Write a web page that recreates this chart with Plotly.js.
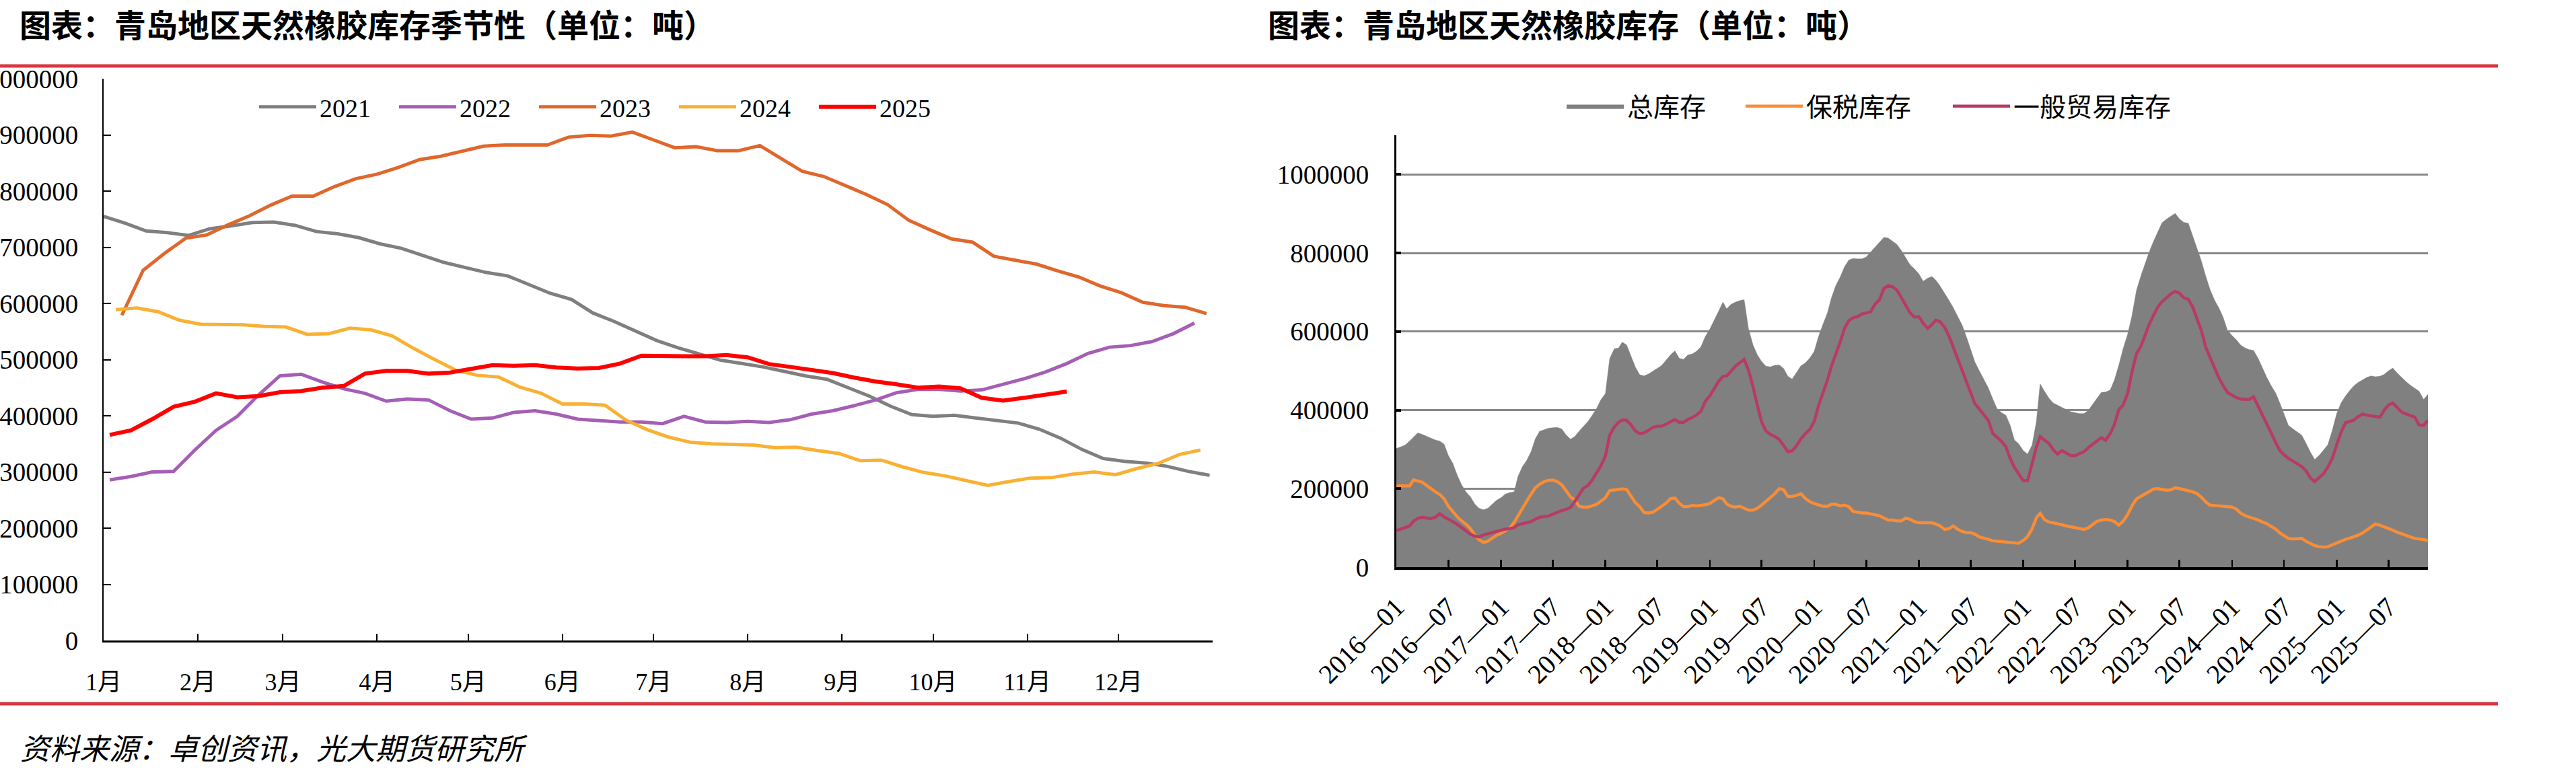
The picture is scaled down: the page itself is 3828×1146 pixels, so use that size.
<!DOCTYPE html>
<html><head><meta charset="utf-8">
<script src="https://cdn.plot.ly/plotly-3.0.1.min.js"></script>
<style>html,body{margin:0;padding:0;background:#fff;}#chart{width:3828px;height:1146px;}</style>
</head><body><div id="chart"></div>
<script>
const W = 3828, H = 1146;

// ---------- Left chart: seasonal inventory (weekly) ----------
const monthTickDays = [0, 31, 59, 90, 120, 151, 181, 212, 243, 273, 304, 334, 365];
const monthTickText = ['1月','2月','3月','4月','5月','6月','7月','8月','9月','10月','11月','12月',''];
const seasonYears = ['2021','2022','2023','2024','2025'];
const seasonStartDay = [0, 2, 6, 4, 2];
const seasonColors = ['#7F7F7F','#A55EB5','#E0672C','#F8B133','#FF0000'];
const s2021 = [755000,743000,729000,726000,721000,733000,738000,744000,745000,739000,728000,724000,717000,706000,698000,686000,673000,664000,655000,649000,634000,618000,607000,583000,568000,551000,534000,521000,510000,499000,493000,487000,479000,471000,465000,450000,435000,417000,402000,399000,401000,396000,392000,387000,376000,360000,340000,324000,319000,316000,310000,301000,294000];
const s2022 = [286000,292000,300000,301000,339000,374000,399000,437000,471000,474000,460000,448000,440000,426000,430000,428000,409000,394000,396000,406000,409000,403000,394000,392000,389000,389000,386000,399000,389000,388000,390000,388000,393000,403000,409000,418000,428000,441000,447000,447000,444000,446000,456000,466000,478000,493000,511000,522000,525000,532000,546000,565000];
const s2023 = [579000,659000,689000,716000,722000,740000,756000,775000,791000,791000,808000,822000,830000,842000,856000,862000,871000,880000,882000,882000,882000,896000,899000,898000,905000,891000,877000,879000,872000,872000,881000,858000,835000,826000,810000,794000,776000,748000,731000,715000,709000,684000,677000,670000,658000,647000,631000,619000,602000,596000,593000,582000];
const s2024 = [589000,592000,585000,570000,563000,562000,562000,559000,558000,545000,546000,556000,553000,542000,520000,500000,481000,472000,469000,451000,440000,421000,421000,419000,392000,375000,362000,353000,350000,349000,348000,343000,344000,338000,333000,320000,321000,309000,299000,293000,285000,276000,283000,289000,290000,296000,300000,295000,306000,315000,331000,339000];
const s2025 = [366000,374000,394000,416000,425000,440000,433000,435000,442000,444000,450000,453000,475000,480000,480000,475000,477000,484000,490000,489000,490000,486000,484000,485000,493000,507000,506000,506000,506000,508000,504000,492000,487000,481000,476000,468000,461000,456000,450000,452000,449000,432000,427000,432000,438000,443000];
const seasonValues = [s2021, s2022, s2023, s2024, s2025];

// ---------- Right chart: Qingdao inventory (semi-monthly, 2016-01 .. 2025-11) ----------
const invFirstYear = 2016, invMonths = 119;
const invDates = [];
for (let m = 0; m < invMonths; m++) {
  const y = invFirstYear + Math.floor(m / 12), mo = String(m % 12 + 1).padStart(2, '0');
  invDates.push(y + '-' + mo + '-01', y + '-' + mo + '-16');
}
const totalInv = [302000,306000,311000,321000,332000,342000,338000,333000,328000,324000,
321000,313000,284000,265000,234000,210000,191000,179000,161000,150000,
146000,150000,160000,170000,177000,186000,190000,192000,230000,255000,
272000,294000,327000,346000,350000,354000,355000,356000,352000,337000,
326000,333000,346000,359000,371000,387000,404000,426000,442000,531000,
556000,558000,573000,566000,536000,509000,490000,487000,492000,499000,
506000,513000,527000,540000,551000,532000,529000,540000,543000,550000,
561000,587000,606000,627000,652000,675000,658000,669000,675000,679000,
681000,608000,566000,541000,524000,512000,510000,514000,515000,506000,
486000,479000,496000,513000,520000,532000,549000,587000,619000,647000,
685000,716000,739000,765000,782000,786000,785000,785000,790000,802000,
814000,827000,840000,838000,830000,822000,806000,789000,770000,760000,
747000,728000,736000,740000,731000,716000,698000,680000,661000,641000,
617000,587000,554000,522000,499000,479000,456000,429000,404000,394000,
387000,362000,324000,314000,297000,288000,311000,371000,467000,448000,
430000,418000,412000,406000,401000,396000,393000,391000,391000,399000,
415000,431000,445000,446000,451000,477000,514000,556000,593000,640000,
705000,741000,769000,800000,829000,854000,877000,886000,894000,901000,
887000,878000,876000,844000,811000,779000,741000,707000,680000,660000,
636000,603000,590000,579000,565000,558000,554000,552000,532000,507000,
484000,463000,444000,418000,389000,361000,352000,344000,336000,315000,
293000,274000,285000,298000,312000,347000,391000,418000,436000,450000,
461000,470000,477000,483000,487000,485000,486000,491000,500000,507000,
494000,483000,472000,463000,456000,448000,427000,440000];
const bondedInv = [207000,207000,207000,207000,222000,220000,216000,208000,199000,192000,
185000,174000,155000,141000,128000,118000,109000,98000,82000,70000,
63000,66000,73000,81000,86000,92000,100000,114000,131000,150000,
168000,186000,202000,211000,218000,221000,222000,218000,210000,195000,
179000,171000,155000,153000,153000,156000,160000,168000,177000,195000,
197000,197000,199000,198000,180000,164000,154000,139000,138000,140000,
147000,154000,163000,174000,176000,163000,154000,154000,157000,156000,
157000,159000,162000,170000,177000,174000,161000,155000,153000,155000,
150000,145000,145000,150000,158000,167000,176000,187000,200000,197000,
180000,180000,183000,187000,175000,167000,162000,158000,155000,155000,
160000,160000,156000,158000,154000,142000,139000,138000,138000,136000,
133000,131000,125000,120000,120000,118000,118000,125000,122000,116000,
113000,113000,113000,113000,110000,105000,96000,98000,105000,97000,
91000,88000,88000,84000,77000,75000,71000,67000,66000,65000,
63000,63000,62000,61000,68000,78000,98000,126000,137000,121000,
115000,112000,110000,108000,105000,103000,101000,98000,96000,100000,
110000,117000,120000,121000,120000,116000,107000,117000,134000,156000,
174000,181000,187000,192000,199000,200000,198000,196000,197000,202000,
200000,198000,195000,192000,187000,178000,166000,158000,157000,156000,
155000,155000,153000,148000,137000,131000,128000,124000,120000,115000,
111000,104000,97000,87000,80000,73000,72000,72000,73000,66000,
60000,55000,52000,51000,52000,57000,61000,66000,71000,74000,
77000,81000,87000,94000,103000,110000,107000,102000,97000,94000,
89000,85000,80000,76000,73000,72000,70000,68000];
const generalInv = [93000,96000,101000,105000,117000,124000,127000,125000,124000,127000,
136000,128000,121000,116000,109000,101000,91000,84000,79000,77000,
82000,85000,88000,90000,93000,97000,98000,101000,108000,111000,
113000,116000,122000,127000,129000,130000,135000,140000,144000,147000,
152000,167000,185000,201000,208000,222000,240000,258000,283000,336000,
357000,369000,375000,374000,362000,347000,340000,342000,349000,356000,
359000,359000,364000,370000,376000,369000,369000,376000,381000,388000,
397000,422000,436000,454000,473000,486000,487000,499000,512000,521000,
529000,502000,460000,413000,370000,347000,338000,333000,325000,310000,
294000,296000,310000,327000,340000,350000,371000,411000,443000,476000,
511000,540000,574000,608000,628000,635000,638000,645000,648000,650000,
670000,681000,710000,717000,714000,706000,686000,666000,648000,637000,
638000,621000,608000,618000,629000,625000,611000,589000,561000,528000,
498000,470000,442000,416000,402000,388000,374000,341000,331000,321000,
307000,277000,254000,236000,220000,220000,265000,306000,332000,323000,
315000,299000,288000,297000,290000,284000,284000,288000,294000,304000,
313000,322000,330000,323000,340000,364000,401000,413000,443000,497000,
544000,562000,588000,616000,641000,662000,676000,687000,696000,702000,
698000,686000,682000,663000,631000,602000,560000,533000,509000,482000,
462000,445000,438000,432000,428000,427000,427000,434000,411000,390000,
368000,343000,318000,297000,286000,277000,270000,263000,256000,245000,
227000,218000,229000,238000,255000,276000,312000,343000,368000,372000,
374000,383000,390000,387000,385000,383000,382000,400000,413000,418000,
406000,395000,390000,385000,382000,362000,361000,374000];
const invSeriesNames = ['总库存','保税库存','一般贸易库存'];
const invTickVals = ['2016-01-01','2016-07-01','2017-01-01','2017-07-01','2018-01-01','2018-07-01','2019-01-01','2019-07-01','2020-01-01','2020-07-01','2021-01-01','2021-07-01','2022-01-01','2022-07-01','2023-01-01','2023-07-01','2024-01-01','2024-07-01','2025-01-01','2025-07-01'];
const invTickText = ['2016—01','2016—07','2017—01','2017—07','2018—01','2018—07','2019—01','2019—07','2020—01','2020—07','2021—01','2021—07','2022—01','2022—07','2023—01','2023—07','2024—01','2024—07','2025—01','2025—07'];
const invYTicks = [0,200000,400000,600000,800000,1000000];

// ---------- helpers ----------
const px = x => x / W, py = y => 1 - y / H;
const SERIF = 'Liberation Serif, "Times New Roman", "Noto Sans CJK SC", serif';
const CJK = '"Noto Sans CJK SC", sans-serif';

const traces = [];
seasonYears.forEach((yr, i) => {
  const vals = seasonValues[i];
  traces.push({
    type: 'scatter', mode: 'lines', name: yr,
    x: vals.map((_, j) => seasonStartDay[i] + 7 * j), y: vals,
    xaxis: 'x', yaxis: 'y', legend: 'legend',
    line: {color: seasonColors[i], width: i === 4 ? 6 : 5}
  });
});
traces.push({type:'scatter', mode:'lines', name: invSeriesNames[0], x: invDates, y: totalInv,
  xaxis:'x2', yaxis:'y2', legend:'legend2', fill:'tozeroy', fillcolor:'#808080',
  line:{color:'#808080', width:0.5}});
traces.push({type:'scatter', mode:'lines', name: invSeriesNames[1], x: invDates, y: bondedInv,
  xaxis:'x2', yaxis:'y2', legend:'legend3', line:{color:'#F98D36', width:4.5}});
traces.push({type:'scatter', mode:'lines', name: invSeriesNames[2], x: invDates, y: generalInv,
  xaxis:'x2', yaxis:'y2', legend:'legend4', line:{color:'#B83B64', width:4.5}});

const rightLegend = (xpx) => ({
  orientation: 'h', x: px(xpx), xanchor: 'left', y: py(158), yanchor: 'middle',
  font: {family: CJK, size: 39, color: '#000'}, bgcolor: 'rgba(0,0,0,0)',
  itemwidth: 85, traceorder: 'normal'
});

const layout = {
  width: W, height: H, margin: {l:0, r:0, t:0, b:0},
  paper_bgcolor: '#fff', plot_bgcolor: 'rgba(0,0,0,0)',
  showlegend: true, hovermode: false,
  xaxis: {
    domain: [px(154), px(1802)], range: [0, 365], anchor: 'y',
    tickmode: 'array', tickvals: monthTickDays, ticktext: monthTickText,
    ticks: 'inside', ticklen: 10, tickwidth: 2, tickcolor: '#000',
    showline: true, linecolor: '#000', linewidth: 3, showgrid: false, zeroline: false,
    tickfont: {family: SERIF, size: 36, color: '#000'}, ticklabelstandoff: 28, fixedrange: true
  },
  yaxis: {
    domain: [py(952), py(117)], range: [0, 1000000], anchor: 'x',
    tickmode: 'linear', tick0: 0, dtick: 100000, tickformat: 'd',
    ticks: 'inside', ticklen: 11, tickwidth: 2, tickcolor: '#000',
    showline: true, linecolor: '#000', linewidth: 2, showgrid: false, zeroline: false,
    tickfont: {family: SERIF, size: 39, color: '#000'}, ticklabelstandoff: 28, fixedrange: true
  },
  xaxis2: {
    type: 'date', domain: [px(2075), px(3608)], range: ['2016-01-01', '2025-11-16'], anchor: 'y2',
    tickmode: 'array', tickvals: invTickVals, ticktext: invTickText, tickangle: -45,
    ticks: 'inside', ticklen: 11, tickwidth: 2.5, tickcolor: '#000',
    showline: true, linecolor: '#000', linewidth: 4, showgrid: false, zeroline: false,
    tickfont: {family: SERIF, size: 40, color: '#000'}, ticklabelstandoff: 16, fixedrange: true
  },
  yaxis2: {
    domain: [py(843), py(201)], range: [0, 1100000], anchor: 'x2',
    tickmode: 'array', tickvals: invYTicks, tickformat: 'd',
    ticks: 'inside', ticklen: 7, tickwidth: 4, tickcolor: '#000',
    showline: true, linecolor: '#000', linewidth: 3, zeroline: false,
    showgrid: true, gridcolor: '#888888', gridwidth: 3,
    tickfont: {family: SERIF, size: 39, color: '#000'}, ticklabelstandoff: 30, fixedrange: true
  },
  legend: {
    orientation: 'h', x: px(380), xanchor: 'left', y: py(159), yanchor: 'middle',
    font: {family: SERIF, size: 38, color: '#000'}, bgcolor: 'rgba(0,0,0,0)',
    entrywidth: 108, entrywidthmode: 'pixels', itemwidth: 85, traceorder: 'normal'
  },
  legend2: rightLegend(2323),
  legend3: rightLegend(2589),
  legend4: rightLegend(2897),
  shapes: [
    {type:'line', xref:'paper', yref:'paper', x0: 0, x1: px(3712), y0: py(98), y1: py(98), line:{color:'#D8363F', width:5}},
    {type:'line', xref:'paper', yref:'paper', x0: 0, x1: px(3712), y0: py(1046), y1: py(1046), line:{color:'#D8363F', width:5}}
  ],
  annotations: [
    {xref:'paper', yref:'paper', x: px(27), y: py(34), xanchor:'left', yanchor:'middle', showarrow:false,
     text:'图表：青岛地区天然橡胶库存季节性（单位：吨）', font:{family: CJK, size: 47, color:'#000', weight: 'bold'}},
    {xref:'paper', yref:'paper', x: px(1882), y: py(34), xanchor:'left', yanchor:'middle', showarrow:false,
     text:'图表：青岛地区天然橡胶库存（单位：吨）', font:{family: CJK, size: 47, color:'#000', weight: 'bold'}},
    {xref:'paper', yref:'paper', x: px(28), y: py(1110), xanchor:'left', yanchor:'middle', showarrow:false,
     text:'资料来源：卓创资讯，光大期货研究所', font:{family: CJK, size: 44, color:'#000', style: 'italic'}}
  ]
};

Plotly.newPlot('chart', traces, layout, {staticPlot: true, displayModeBar: false});
</script>
</body></html>
